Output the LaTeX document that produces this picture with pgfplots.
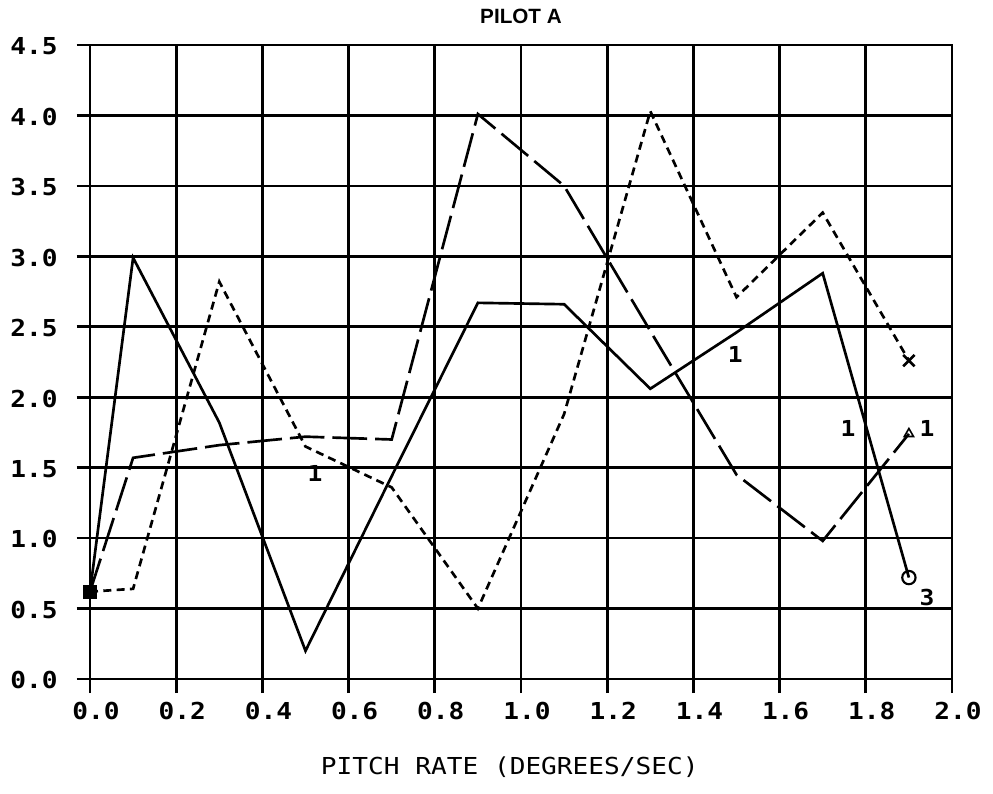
\documentclass[border=0pt]{standalone}
\usepackage{pgfplots}
\pgfplotsset{compat=1.18}
\usepackage{pgfplotstable}
\usepackage{fontspec}
\newfontfamily\plotfont[FakeStretch=1.12]{DejaVu Sans Mono}
\newfontfamily\titlefont{Liberation Sans}

% pitch-rate runs for pilot A
\pgfplotstableread{
x y
0.0 0.62
0.1 2.99
0.3 1.82
0.5 0.20
0.7 1.44
0.9 2.67
1.1 2.66
1.3 2.06
1.5 2.46
1.7 2.88
1.9 0.72
}\runsolid

\pgfplotstableread{
x y
0.0 0.62
0.1 1.57
0.3 1.66
0.5 1.72
0.7 1.70
0.9 4.01
1.1 3.50
1.3 2.47
1.5 1.45
1.7 0.98
1.9 1.74
}\runlong

\pgfplotstableread{
x y
0.0 0.62
0.1 0.64
0.3 2.82
0.5 1.65
0.7 1.36
0.9 0.50
1.1 1.88
1.3 4.03
1.5 2.71
1.7 3.31
1.9 2.26
}\runshort

\begin{document}
\begin{tikzpicture}
\useasboundingbox (-67.5pt,-85.5pt) rectangle (677.25pt,509.25pt);
\begin{axis}[
  at={(0,0)}, anchor=south west,
  scale only axis, width=646.5pt, height=475.5pt,
  xmin=0, xmax=2, ymin=0, ymax=4.5,
  xtick={0,0.2,0.4,0.6,0.8,1.0,1.2,1.4,1.6,1.8,2.0},
  ytick={0,0.5,1.0,1.5,2.0,2.5,3.0,3.5,4.0,4.5},
  grid=major,
  grid style={black, line width=2pt, solid},
  axis line style={black, line width=2pt},
  tick align=outside, tick pos=left,
  major tick length=9.75pt,
  every tick/.style={black, line width=2pt},
  ticklabel style={font=\plotfont\bfseries\fontsize{17.5}{17.5}\selectfont},
  xticklabel style={xshift=4.5pt, yshift=-4pt},
  yticklabel style={xshift=-11pt, yshift=-1pt},
  /pgf/number format/.cd, fixed, fixed zerofill, precision=1, assume math mode=true,
  /pgfplots/.cd,
  title={PILOT A},
  title style={font=\titlefont\bfseries\fontsize{15.5}{15.5}\selectfont,
    at={(axis description cs:0.5,1)}, anchor=base, yshift=10pt},
  xlabel={PITCH RATE (DEGREES/SEC)},
  xlabel style={font=\plotfont\fontsize{17.5}{17.5}\selectfont,
    at={(axis description cs:0.487,0)}, anchor=center, yshift=-66pt},
  clip=false,
]
% grid lines run a little past the frame on the left and bottom
\pgfplotsinvokeforeach{0,0.5,1.0,1.5,2.0,2.5,3.0,3.5,4.0,4.5}{
  \addplot[black, line width=2pt, forget plot] coordinates {(-0.0302,#1) (0,#1)};
}
\pgfplotsinvokeforeach{0,0.2,0.4,0.6,0.8,1.0,1.2,1.4,1.6,1.8,2.0}{
  \addplot[black, line width=2pt, forget plot] coordinates {(#1,-0.0994) (#1,0)};
}

\addplot[black, line width=2pt, solid, mark=none] table {\runsolid};
\addplot[black, line width=2pt, dash pattern=on 26pt off 6pt, mark=none] table {\runlong};
\addplot[black, line width=2pt, dash pattern=on 6pt off 4pt, mark=none] table {\runshort};

% start and end symbols
\addplot[only marks, mark=square*, mark size=4.8pt, black] coordinates {(0.0,0.62)};
\addplot[only marks, mark=o, mark size=5pt, black, line width=1.6pt] coordinates {(1.9,0.72)};
\addplot[only marks, mark=x, mark size=6pt, black, line width=2pt] coordinates {(1.9,2.26)};
\addplot[only marks, mark=triangle, mark size=4pt, black, line width=1.2pt] coordinates {(1.9,1.74)};

% curve numbers
\node[font=\plotfont\bfseries\fontsize{16.5}{16.5}\selectfont] at (axis cs:0.522,1.46) {1};
\node[font=\plotfont\bfseries\fontsize{16.5}{16.5}\selectfont] at (axis cs:1.497,2.30) {1};
\node[font=\plotfont\bfseries\fontsize{16.5}{16.5}\selectfont] at (axis cs:1.759,1.78) {1};
\node[font=\plotfont\bfseries\fontsize{16.5}{16.5}\selectfont] at (axis cs:1.942,1.78) {1};
\node[font=\plotfont\bfseries\fontsize{16.5}{16.5}\selectfont] at (axis cs:1.942,0.58) {3};
\end{axis}
\end{tikzpicture}
\end{document}
